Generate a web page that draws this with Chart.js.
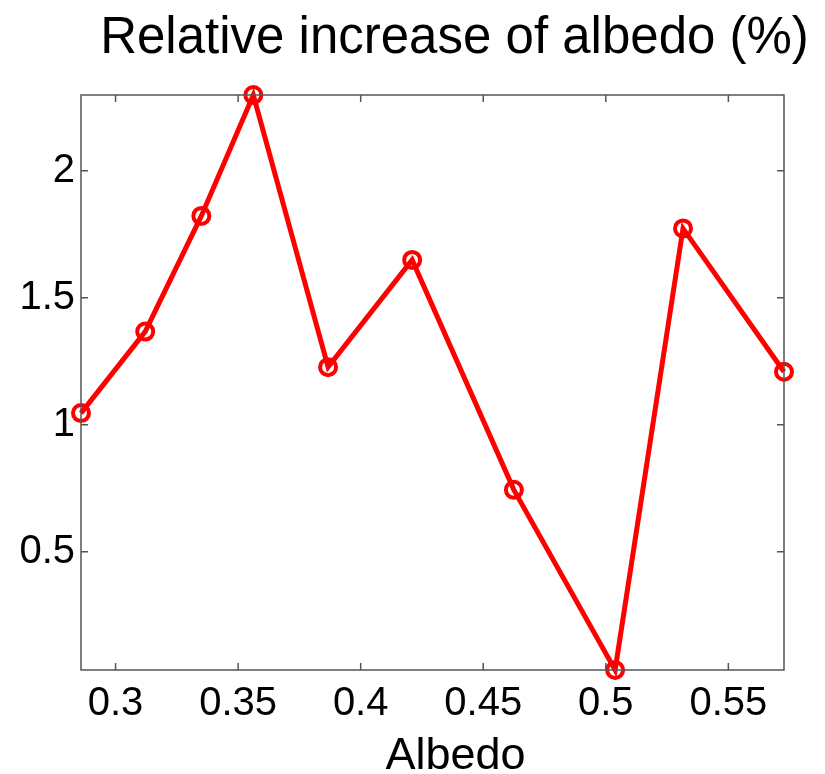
<!DOCTYPE html>
<html>
<head>
<meta charset="utf-8">
<script src="https://cdn.jsdelivr.net/npm/chart.js@4"></script>
<style>
  html, body { margin: 0; padding: 0; background: #fff; }
  #wrap { width: 825px; height: 774px; }
</style>
</head>
<body>
<div id="wrap"><canvas id="lineChart"></canvas></div>
<script>
// values
var albedo = [0.2859, 0.3121, 0.335, 0.3562, 0.3867, 0.421, 0.4625, 0.5038, 0.5315, 0.5727];
var increase = [1.046, 1.367, 1.822, 2.298, 1.227, 1.649, 0.744, 0.035, 1.773, 1.209];
var xTicks = [0.3, 0.35, 0.4, 0.45, 0.5, 0.55];
var yTicks = [0.5, 1, 1.5, 2];
var titleText = "Relative increase of albedo (%)";
var xLabel = "Albedo";

var FONT = "'Liberation Sans', Helvetica, Arial, sans-serif";

var points = albedo.map(function (x, i) {
  return { x: x, y: increase[i] };
});

// box round the plot, inward ticks on all four sides, title and x label
var matlabBox = {
  id: "matlabBox",
  afterDraw: function (chart) {
    var ctx = chart.ctx;
    var a = chart.chartArea;
    var xs = chart.scales.x;
    var ys = chart.scales.y;
    ctx.save();
    ctx.strokeStyle = "#555";
    ctx.lineWidth = 1.5;
    ctx.strokeRect(a.left, a.top, a.right - a.left, a.bottom - a.top);
    ctx.beginPath();
    xTicks.forEach(function (v) {
      var px = xs.getPixelForValue(v);
      ctx.moveTo(px, a.bottom);
      ctx.lineTo(px, a.bottom - 7);
      ctx.moveTo(px, a.top);
      ctx.lineTo(px, a.top + 7);
    });
    yTicks.forEach(function (v) {
      var py = ys.getPixelForValue(v);
      ctx.moveTo(a.left, py);
      ctx.lineTo(a.left + 7, py);
      ctx.moveTo(a.right, py);
      ctx.lineTo(a.right - 7, py);
    });
    ctx.stroke();

    ctx.fillStyle = "#000";
    ctx.textAlign = "center";
    ctx.textBaseline = "alphabetic";
    var cx = (a.left + a.right) / 2 + 22;
    ctx.font = "51px " + FONT;
    ctx.fillText(titleText, cx, a.top - 42);
    ctx.font = "45px " + FONT;
    ctx.fillText(xLabel, cx + 1, a.bottom + 99);
    ctx.restore();
  }
};

var ctx = document.getElementById("lineChart").getContext("2d");

var MyChart = new Chart(ctx, {
  type: "scatter",
  data: {
    datasets: [
      {
        data: points,
        showLine: true,
        borderColor: "#ff0000",
        borderWidth: 5,
        pointRadius: 8,
        pointBorderWidth: 4,
        pointBorderColor: "#ff0000",
        pointBackgroundColor: "rgba(0,0,0,0)",
        clip: false,
        tension: 0,
      },
    ],
  },
  options: {
    responsive: true,
    maintainAspectRatio: false,
    animation: false,
    layout: {
      padding: { top: 95, right: 41, left: 0, bottom: 0 },
    },
    plugins: {
      legend: { display: false },
      tooltip: { enabled: false },
      title: { display: false },
    },
    scales: {
      x: {
        type: "linear",
        min: 0.2859,
        max: 0.5727,
        grid: { display: false, drawTicks: false, tickLength: 0 },
        border: { display: false },
        afterBuildTicks: function (scale) {
          scale.ticks = xTicks.map(function (v) { return { value: v }; });
        },
        afterFit: function (scale) {
          scale.height = 104;
        },
        ticks: {
          color: "#000",
          padding: 10,
          maxRotation: 0,
          font: { family: FONT, size: 40 },
          callback: function (v) { return String(v); },
        },
      },
      y: {
        type: "linear",
        min: 0.035,
        max: 2.298,
        grid: { display: false, drawTicks: false, tickLength: 0 },
        border: { display: false },
        afterBuildTicks: function (scale) {
          scale.ticks = yTicks.map(function (v) { return { value: v }; });
        },
        afterFit: function (scale) {
          scale.width = 81;
        },
        ticks: {
          color: "#000",
          padding: 6,
          font: { family: FONT, size: 40 },
          callback: function (v) { return String(v); },
        },
      },
    },
  },
  plugins: [matlabBox],
});
</script>
</body>
</html>
